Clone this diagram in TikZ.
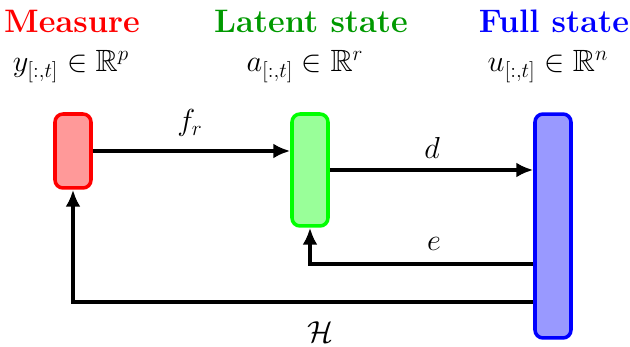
\documentclass[tikz,border=0pt]{standalone}
\usepackage{amsmath,amssymb}
\usetikzlibrary{arrows.meta,calc,positioning}

\begin{document}
\begin{tikzpicture}[
  x=0.02cm, y=-0.02cm,
  blk/.style={rectangle, draw, rounded corners=0.16cm, line width=2pt, minimum width=0.72cm, inner sep=0pt},
  ttl/.style={font=\fontsize{18.5}{22}\selectfont\bfseries, anchor=base},
  vec/.style={font=\fontsize{17.5}{21}\selectfont, anchor=base},
  lbl/.style={font=\fontsize{18}{22}\selectfont},
  arr/.style={-{Latex[length=0.34cm,width=0.3cm]}, line width=2pt}
]
\useasboundingbox (0,0) rectangle (630,347);

\node[ttl, text=red] (tmeas) at (72,33) {Measure};
\node[ttl, text=green!60!black] (tlat) at (311,33) {Latent state};
\node[ttl, text=blue] (tfull) at (554,33) {Full state};

\node[vec] (vmeas) at (71,72) {$y_{[:,t]}\in\mathbb{R}^p$};
\node[vec] (vlat) at (305,72) {$a_{[:,t]}\in\mathbb{R}^r$};
\node[vec] (vfull) at (548,72) {$u_{[:,t]}\in\mathbb{R}^n$};

\node[blk, draw=red, fill=red!40, minimum height=1.48cm] (meas) at (73,151) {};
\node[blk, draw=green, fill=green!40, minimum height=2.24cm] (lat) at (310,170) {};
\node[blk, draw=blue, fill=blue!40, minimum height=4.48cm] (full) at (553,226) {};

% forward maps
\draw[arr] (meas.east) -- (lat.west |- meas.east);
\draw[arr] (lat.east) -- (full.west |- lat.east);
% back maps
\draw[arr] ($(full.west)+(0,38)$) -| (lat.south);
\draw[arr] ($(full.west)+(0,76)$) -| (meas.south);

\node[lbl] (lf) at (190,123) {$f_r$};
\node[lbl] (ld) at (432,148) {$d$};
\node[lbl] (le) at (434,244) {$e$};
\node[lbl] (lh) at (320,332) {$\mathcal{H}$};
\end{tikzpicture}
\end{document}
